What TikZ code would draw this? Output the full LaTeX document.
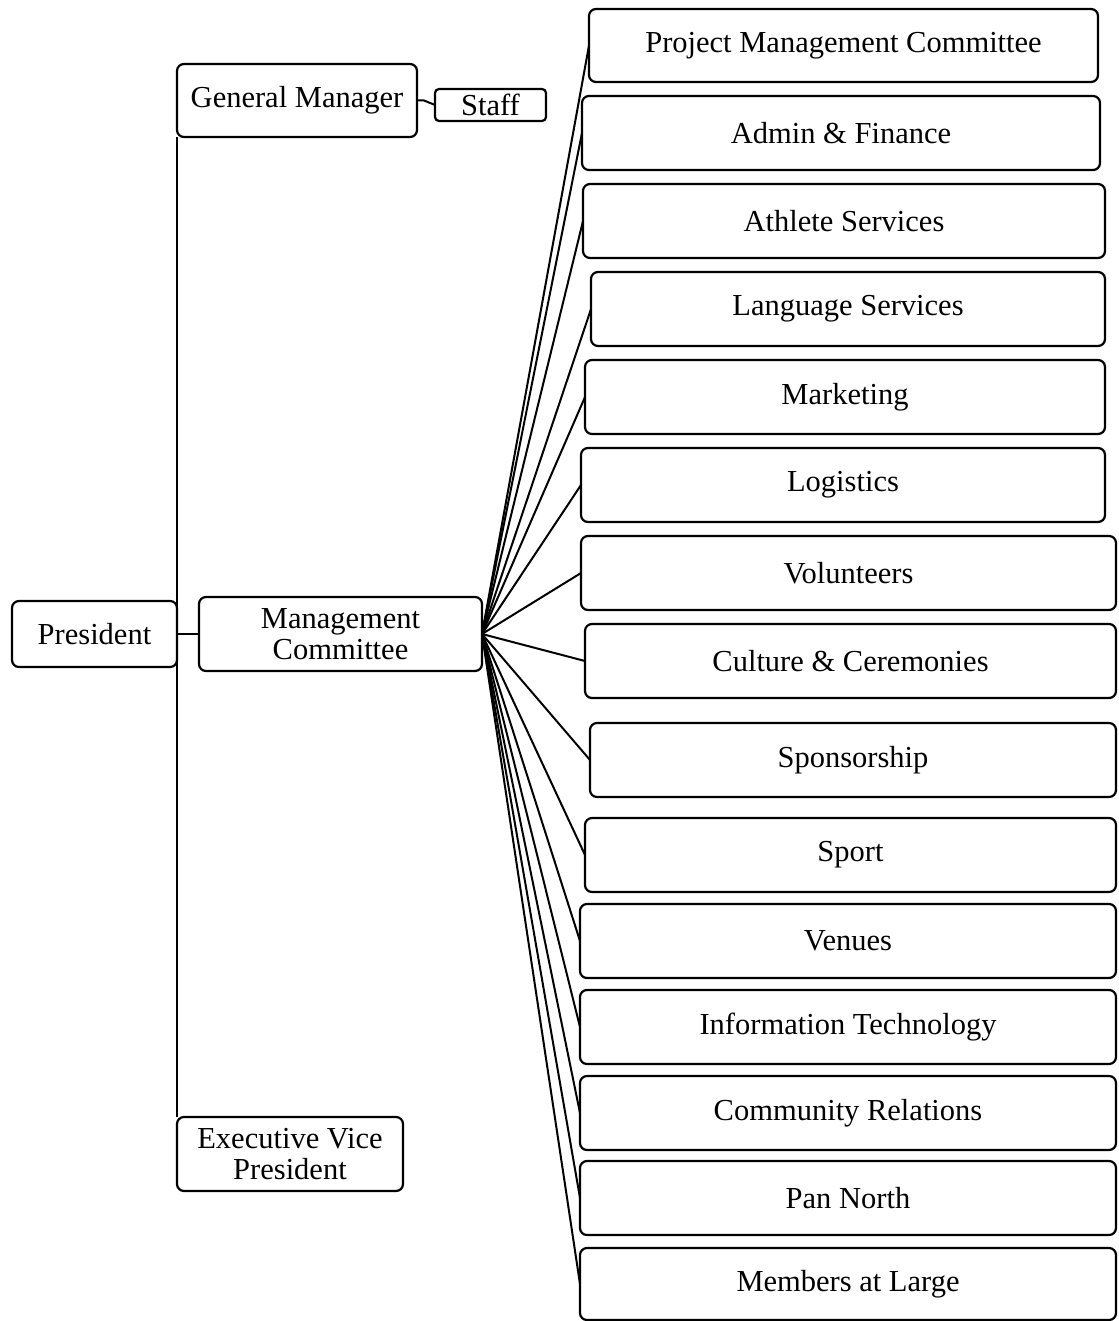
\documentclass[tikz,border=0pt]{standalone}
\usepackage{fontspec}
\setmainfont{Liberation Serif}
\begin{document}
\begin{tikzpicture}[x=1pt,y=-1pt,
  box/.style={draw=black, line width=2.2pt, rounded corners=7pt, outer sep=0pt,
    inner sep=0pt, align=center, font=\fontsize{30.5}{31}\selectfont},
  link/.style={draw=black, line width=2pt}]
\useasboundingbox (0,0) rectangle (1118,1321);

% left column
\node[box, minimum width=165pt, minimum height=66pt] (pres) at (94.5,634) {President};
\node[box, minimum width=283pt, minimum height=74pt] (mc) at (340.5,634) {Management\\Committee};
\node[box, minimum width=240pt, minimum height=73pt] (gm) at (297,100.5) {General Manager};
\node[box, minimum width=111pt, minimum height=32pt, rounded corners=4pt] (staff) at (490.5,105) {Staff};
\node[box, minimum width=226pt, minimum height=74pt] (evp) at (290,1154) {Executive Vice\\President};

% departments
\node[box, minimum width=509pt, minimum height=73pt] (d1) at (843.5,45.5) {Project Management Committee};
\node[box, minimum width=518pt, minimum height=74pt] (d2) at (841,133) {Admin \& Finance};
\node[box, minimum width=522pt, minimum height=74pt] (d3) at (844,221) {Athlete Services};
\node[box, minimum width=514pt, minimum height=74pt] (d4) at (848,309) {Language Services};
\node[box, minimum width=520pt, minimum height=74pt] (d5) at (845,397) {Marketing};
\node[box, minimum width=524pt, minimum height=74pt] (d6) at (843,485) {Logistics};
\node[box, minimum width=535pt, minimum height=74pt] (d7) at (848.5,573) {Volunteers};
\node[box, minimum width=531pt, minimum height=74pt] (d8) at (850.5,661) {Culture \& Ceremonies};
\node[box, minimum width=526pt, minimum height=74pt] (d9) at (853,760) {Sponsorship};
\node[box, minimum width=531pt, minimum height=74pt] (d10) at (850.5,855) {Sport};
\node[box, minimum width=536pt, minimum height=74pt] (d11) at (848,941) {Venues};
\node[box, minimum width=536pt, minimum height=74pt] (d12) at (848,1027) {Information Technology};
\node[box, minimum width=536pt, minimum height=74pt] (d13) at (848,1113) {Community Relations};
\node[box, minimum width=536pt, minimum height=74pt] (d14) at (848,1198) {Pan North};
\node[box, minimum width=536pt, minimum height=72pt] (d15) at (848,1284) {Members at Large};

% connectors
\draw[link] (gm.south west) -- (evp.north west);
\draw[link] (pres.east) -- (mc.west);
\draw[link] (gm.east) -- ++(7,0) -- (staff.west);
\foreach \d in {d1,d2,d3,d4,d5,d6,d7,d8,d9,d10,d11,d12,d13,d14,d15}
  \draw[link] (mc.east) -- (\d.west);
\end{tikzpicture}
\end{document}
